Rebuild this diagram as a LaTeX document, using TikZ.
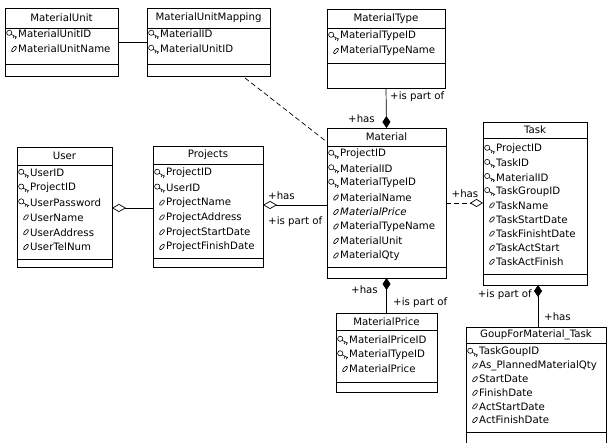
\documentclass[tikz,border=0pt]{standalone}
\usepackage{fontspec}
\setmainfont{DejaVu Sans}
\usetikzlibrary{arrows.meta}
\tikzset{
  classbox/.style={draw, line width=0.7pt, inner sep=0pt, outer sep=0pt, anchor=north west},
  sepline/.style={line width=0.7pt},
  titletext/.style={inner sep=0pt, font=\fontsize{10.2}{11}\selectfont},
  attrtext/.style={inner sep=0pt, anchor=west, font=\fontsize{10.2}{11}\selectfont},
  lbl/.style={inner sep=0pt, font=\fontsize{10.2}{11}\selectfont},
  conn/.style={line width=0.7pt},
  icon/.style={line width=0.6pt},
  comp/.style={-{Diamond[length=12pt,width=8pt]}},
  compstart/.style={{Diamond[length=12pt,width=8pt]}-},
  aggstart/.style={{Diamond[open,length=14pt,width=8pt]}-},
  aggend/.style={-{Diamond[open,length=13pt,width=8pt]}},
  dashline/.style={dash pattern=on 5pt off 3pt}
}
\newcommand\keyico[2]{\begin{scope}[shift={(#1,#2)}]
  \draw[icon] (3.2,-1.2) circle (2.6);
  \draw[icon] (5.2,0.4) -- (11,3.2) (8,1.8) -- (7.2,4) (10,2.7) -- (9.3,4.8);
\end{scope}}
\newcommand\attrico[2]{\begin{scope}[shift={({#1+8},#2)}]
  \draw[icon, rotate=-40] (0,0) ellipse (1.5 and 3.3);
\end{scope}}
% name, left, top, right, bottom, title, title y, header sep, attr sep
\newcommand\umlclass[9]{%
  \node[classbox, minimum width={(#4-#2)*1pt}, minimum height={(#5-#3)*1pt}] (#1) at (#2,#3) {};
  \node[titletext] (#1-title) at ({(#2+#4)/2},#7) {#6};
  \draw[sepline] (#2,#8) -- (#4,#8);
  \draw[sepline] (#2,#9) -- (#4,#9);
}
% name, left, first row y, step, list
\newcommand\umlrows[5]{%
  \foreach \ic/\txt [count=\i] in {#5} {
    \pgfmathsetmacro\yy{#3+(\i-1)*#4}
    \ic{#2+1}{\yy}
    \node[attrtext] (#1-\i) at ({#2+13},\yy) {\txt};
  }
}
\begin{document}
\begin{tikzpicture}[x=1pt,y=-1pt]
\useasboundingbox (0,0) rectangle (607,443);

\umlclass{mu}{5}{8}{118}{76}{MaterialUnit}{18}{28}{64}
\umlrows{mu}{5}{34}{15}{\keyico/MaterialUnitID,\attrico/MaterialUnitName}

\umlclass{mum}{147}{8}{270}{76}{MaterialUnitMapping}{18}{28}{64}
\umlrows{mum}{147}{34}{15}{\keyico/MaterialID,\keyico/MaterialUnitID}

\umlclass{mt}{327}{9}{445}{88}{MaterialType}{19}{28}{63}
\umlrows{mt}{327}{36}{15}{\keyico/MaterialTypeID,\attrico/MaterialTypeName}

\umlclass{mat}{327}{128}{446}{278}{Material}{137}{146}{267}
\umlrows{mat}{327}{154}{14.5}{\keyico/ProjectID,\keyico/MaterialID,\keyico/MaterialTypeID,\attrico/MaterialName,\attrico/\textit{MaterialPrice},\attrico/MaterialTypeName,\attrico/MaterialUnit,\attrico/MaterialQty}

\umlclass{task}{483}{122}{587}{285}{Task}{130}{138}{274}
\umlrows{task}{483}{149}{14.1}{\keyico/ProjectID,\keyico/TaskID,\keyico/MaterialID,\keyico/TaskGroupID,\attrico/TaskName,\attrico/TaskStartDate,\attrico/TaskFinishtDate,\attrico/TaskActStart,\attrico/TaskActFinish}

\umlclass{user}{17}{147}{112}{267}{User}{156}{165}{259}
\umlrows{user}{17}{173}{14.8}{\keyico/UserID,\keyico/ProjectID,\keyico/UserPassword,\attrico/UserName,\attrico/UserAddress,\attrico/UserTelNum}

\umlclass{proj}{153}{146}{263}{267}{Projects}{155}{164}{258}
\umlrows{proj}{153}{173}{14.8}{\keyico/ProjectID,\keyico/UserID,\attrico/ProjectName,\attrico/ProjectAddress,\attrico/ProjectStartDate,\attrico/ProjectFinishDate}

\umlclass{mp}{336}{313}{437}{392}{MaterialPrice}{322}{330}{382}
\umlrows{mp}{336}{340}{14.5}{\keyico/MaterialPriceID,\keyico/MaterialTypeID,\attrico/MaterialPrice}

\umlclass{gft}{466}{327}{606}{447}{GoupForMaterial\_Task}{335}{343}{432}
\umlrows{gft}{466}{352}{13.6}{\keyico/TaskGoupID,\attrico/As\_PlannedMaterialQty,\attrico/StartDate,\attrico/FinishDate,\attrico/ActStartDate,\attrico/ActFinishDate}

% connectors
\draw[conn] (mu.east |- 0,42) -- (mum.west |- 0,42);
\draw[conn, dashline] ([xshift=-25pt,yshift=-2pt]mum.south east) -- ([yshift=-14pt]mat.north west);

\draw[conn, comp] (mt.south) -- (mat.north);
\node[lbl, anchor=west] (l-mt1) at (390,97) {+is part of};
\node[lbl, anchor=east] (l-mt2) at (375,119) {+has};

\draw[conn, aggstart] (user.east |- 0,208) -- (proj.west |- 0,208);

\draw[conn, aggstart] (proj.east |- 0,205) -- (mat.west |- 0,205);
\node[lbl, anchor=west] (l-pm1) at (268,196) {+has};
\node[lbl, anchor=west] (l-pm2) at (268,222) {+is part of};

\draw[conn, dashline, aggend] (mat.east |- 0,203) -- (task.west |- 0,203);
\node[lbl] (l-mk1) at (465,194) {+has};

\draw[conn, compstart] (mat.south) -- (mat.south |- mp.north);
\node[lbl, anchor=east] (l-mp1) at (378,290) {+has};
\node[lbl, anchor=west] (l-mp2) at (393,303) {+is part of};

\draw[conn, compstart] ([xshift=3pt]task.south) -- ([xshift=3pt]task.south |- gft.north);
\node[lbl, anchor=east] (l-tg1) at (532,295) {+is part of};
\node[lbl, anchor=west] (l-tg2) at (544,317) {+has};
\end{tikzpicture}
\end{document}
